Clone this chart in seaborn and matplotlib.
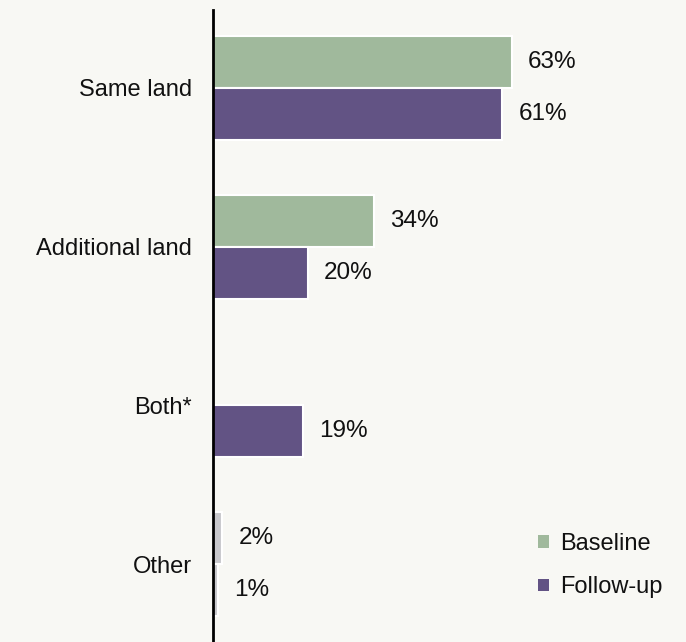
import numpy as np
import pandas as pd
import seaborn as sns
import matplotlib.pyplot as plt
from matplotlib.patches import Patch

# Share of respondents by type of land used
categories = ["Same land", "Additional land", "Both*", "Other"]
baseline = [63, 34, np.nan, 2]
follow_up = [61, 20, 19, 1]
periods = ["Baseline", "Follow-up"]

GREEN = "#a0b99c"
PURPLE = "#625384"
GREY = "#c8c8cc"
BG = "#f8f8f4"

df = pd.DataFrame({
    "category": categories * 2,
    "value": baseline + follow_up,
    "period": [periods[0]] * len(categories) + [periods[1]] * len(categories),
})

sns.set_theme(style="white")
plt.rcParams["font.family"] = ["Liberation Sans", "DejaVu Sans"]

fig = plt.figure(figsize=(6.86, 6.42), dpi=100, facecolor=BG)
ax = fig.add_axes([213 / 686, 0.0, 1 - 213 / 686, 1 - 10 / 642])
ax.set_facecolor(BG)

sns.barplot(
    data=df, y="category", x="value", hue="period", orient="h",
    order=categories, hue_order=periods,
    palette=[GREEN, PURPLE], saturation=1, width=0.654, dodge=True,
    edgecolor="white", linewidth=1.5, legend=False, ax=ax,
)

# "Other" bars are shown in neutral grey
for bar in ax.patches:
    yc = bar.get_y() + bar.get_height() / 2
    if abs(yc - 3) < 0.5:
        bar.set_facecolor(GREY)

# Value labels at the end of each bar
for bar in ax.patches:
    w = bar.get_width()
    if np.isnan(w) or w == 0:
        continue
    yc = bar.get_y() + bar.get_height() / 2
    ax.annotate(f"{w:.0f}%", xy=(w, yc), xytext=(11.5, 0),
                textcoords="offset points", va="center", ha="left",
                fontsize=17.5, color="#111111")

ax.set_xlim(0, 99.7)
ax.set_ylim(3.49, -0.49)
ax.set_xlabel("")
ax.set_ylabel("")
ax.set_xticks([])
ax.tick_params(axis="y", length=0, pad=15, labelsize=17, labelcolor="#111111")

for side in ["top", "right", "bottom"]:
    ax.spines[side].set_visible(False)
ax.spines["left"].set_color("black")
ax.spines["left"].set_linewidth(2)

handles = [Patch(facecolor=GREEN, edgecolor="none"),
           Patch(facecolor=PURPLE, edgecolor="none")]
ax.legend(handles, periods, loc="center left", bbox_to_anchor=(0.643, 0.121),
          frameon=False, fontsize=17, handlelength=0.45, handleheight=0.45,
          handletextpad=0.45, labelspacing=0.92, labelcolor="#111111")

fig.savefig("out.png", dpi=100, facecolor=BG)
